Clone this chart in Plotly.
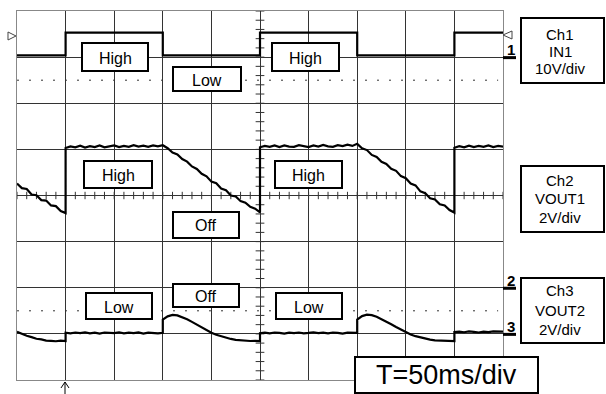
import numpy as np
import plotly.graph_objects as go

# ---------------- captured waveforms ----------------
SAMPLE_MS = 5  # sample spacing of the stored segments

# Ch1 IN1 (V): square drive signal, edge times in ms
ch1_t = [0, 50, 50, 150, 150, 250, 250, 350, 350, 450, 450, 500]
ch1_v = [0.4, 0.4, 5.3, 5.3, 0.4, 0.4, 5.3, 5.3, 0.4, 0.4, 5.3, 5.3]

# Ch2 VOUT1 (V): segments starting at these times, one sample per 5 ms
ch2_seg_start = [0, 50, 150, 250, 350, 450]
ch2_seg_v = [
    [4.52, 4.32, 4.28, 4.04, 4.01, 3.80, 3.78, 3.57, 3.54, 3.33, 3.24],
    [6.06, 6.13, 6.09, 6.16, 6.08, 6.14, 6.10, 6.17, 6.09, 6.13, 6.17,
     6.10, 6.15, 6.11, 6.18, 6.12, 6.16, 6.11, 6.17, 6.13, 6.18],
    [6.18, 6.05, 5.86, 5.78, 5.58, 5.47, 5.26, 5.15, 4.94, 4.83, 4.60,
     4.53, 4.30, 4.23, 4.00, 3.96, 3.76, 3.69, 3.51, 3.43, 3.27],
    [6.09, 6.15, 6.11, 6.17, 6.10, 6.17, 6.12, 6.11, 6.18, 6.13, 6.10,
     6.17, 6.12, 6.19, 6.13, 6.11, 6.18, 6.14, 6.20, 6.15, 6.22],
    [6.24, 6.05, 5.97, 5.76, 5.67, 5.46, 5.37, 5.16, 5.07, 4.84, 4.75,
     4.52, 4.44, 4.18, 4.10, 3.88, 3.83, 3.62, 3.57, 3.37, 3.26],
    [6.07, 6.14, 6.09, 6.16, 6.10, 6.15, 6.11, 6.17, 6.10, 6.15, 6.12],
]

# Ch3 VOUT2 (V)
ch3_seg_start = [0, 50, 150, 250, 350, 450]
ch3_seg_v = [
    [0.09, 0.00, -0.08, -0.14, -0.21, -0.24, -0.29, -0.30, -0.32, -0.29, -0.31],
    [0.05, 0.02, 0.06, 0.03, 0.07, 0.02, 0.05, 0.01, 0.06, 0.04, 0.03,
     0.07, 0.02, 0.05, 0.03, 0.06, 0.01, 0.05, 0.04, 0.02, 0.05],
    [0.62, 0.76, 0.82, 0.80, 0.73, 0.63, 0.52, 0.40, 0.28, 0.16, 0.05,
     -0.04, -0.11, -0.17, -0.22, -0.26, -0.28, -0.30, -0.31, -0.30, -0.31],
    [0.03, 0.05, 0.02, 0.06, 0.04, 0.01, 0.05, 0.03, 0.06, 0.02, 0.04,
     0.07, 0.03, 0.05, 0.02, 0.06, 0.04, 0.01, 0.05, 0.03, 0.04],
    [0.62, 0.77, 0.83, 0.81, 0.74, 0.64, 0.53, 0.42, 0.30, 0.18, 0.07,
     -0.03, -0.10, -0.16, -0.21, -0.25, -0.28, -0.29, -0.31, -0.30, -0.31],
    [0.08, 0.10, 0.07, 0.11, 0.09, 0.06, 0.10, 0.08, 0.11, 0.09, 0.10],
]

# channel vertical settings: volts per division, ground position in divisions
ch_scale = {"Ch1": 10.0, "Ch2": 2.0, "Ch3": 2.0}
ch_ground = {"Ch1": 3.0, "Ch2": -2.0, "Ch3": -3.0}

# state labels drawn on the screen
state_labels = ["High", "Low", "High", "High", "High", "Off", "Off", "Low", "Low"]
channel_names = ["Ch1", "Ch2", "Ch3"]
channel_signals = ["IN1", "VOUT1", "VOUT2"]
channel_units = ["10V/div", "2V/div", "2V/div"]
timebase_label = "T=50ms/div"

# ---------------- helpers ----------------
W, H = 606, 394
L, R, T, B = 17, 503, 11, 380  # plot area in pixels
FONT = "Liberation Sans, Arial, sans-serif"


def px(x):
    return (x - L) / (R - L)


def py(y):
    return (B - y) / (B - T)


def build(starts, segs):
    t, v = [], []
    for s, vals in zip(starts, segs):
        for i, val in enumerate(vals):
            t.append(s + SAMPLE_MS * i)
            v.append(val)
    return t, v


def to_div(ch, volts):
    return [ch_ground[ch] + vv / ch_scale[ch] for vv in volts]


ch2_t, ch2_v = build(ch2_seg_start, ch2_seg_v)
ch3_t, ch3_v = build(ch3_seg_start, ch3_seg_v)

fig = go.Figure()
for name, t, v in [("Ch1", ch1_t, ch1_v), ("Ch2", ch2_t, ch2_v), ("Ch3", ch3_t, ch3_v)]:
    fig.add_trace(go.Scatter(x=t, y=to_div(name, v), mode="lines", name=name,
                             line=dict(color="black", width=2.2), hoverinfo="skip"))

shapes = []
# dotted reference lines
for yy in (2.5, -2.5):
    shapes.append(dict(type="line", xref="x", yref="y", x0=0, x1=495, y0=yy, y1=yy,
                       line=dict(color="#333", width=1, dash="2px,10px"), layer="below"))
# centre graticule ticks
for xx in np.arange(0, 501, 10):
    shapes.append(dict(type="line", xref="x", yref="y", x0=xx, x1=xx, y0=-0.08, y1=0.08,
                       line=dict(color="#333", width=1), layer="below"))
for yy in np.arange(-4, 4.01, 0.2):
    shapes.append(dict(type="line", xref="x", yref="y", x0=245.5, x1=254.5, y0=yy, y1=yy,
                       line=dict(color="#333", width=1), layer="below"))


def box(x0, y0, x1, y1, width=2):
    shapes.append(dict(type="rect", xref="paper", yref="paper",
                       x0=px(x0), x1=px(x1), y0=py(y1), y1=py(y0),
                       line=dict(color="black", width=width), fillcolor="white", layer="above"))


annotations = []


def text(x, y, s, size=16, bold=False):
    annotations.append(dict(xref="paper", yref="paper", x=px(x), y=py(y), text=f"<b>{s}</b>" if bold else s,
                            showarrow=False, xanchor="center", yanchor="middle",
                            font=dict(family=FONT, size=size, color="black")))


# state label boxes (x0, y0, x1, y1)
label_boxes = [(82, 43, 148, 71), (173, 67, 241, 91), (272, 43, 339, 71),
               (84, 161, 152, 188), (275, 161, 342, 188), (173, 212, 239, 238),
               (173, 284, 239, 307), (86, 293, 152, 319), (276, 293, 342, 319)]
for (x0, y0, x1, y1), lab in zip(label_boxes, state_labels):
    box(x0, y0, x1, y1)
    text((x0 + x1) / 2, (y0 + y1) / 2 + 1, lab, size=16)

# channel info boxes
info_boxes = [(521, 18, 604, 83), (521, 166, 604, 232), (521, 278, 604, 343)]
info_lines = [(34, 51, 68.5), (180.5, 198, 217.5), (290.5, 310, 329.5)]
for (x0, y0, x1, y1), ys, a, b_, c in zip(info_boxes, info_lines, channel_names,
                                           channel_signals, channel_units):
    box(x0, y0, x1, y1)
    for yy, s in zip(ys, (a, b_, c)):
        text(560, yy, s, size=15)

# timebase box
box(355, 357, 538, 393)
text(446, 375, timebase_label, size=27)

# ground markers on the right edge
for label, ch in zip(("1", "2", "3"), channel_names):
    gy = 196 - ch_ground[ch] * (B - T) / 8
    shapes.append(dict(type="line", xref="paper", yref="paper", x0=px(503), x1=px(516),
                       y0=py(gy), y1=py(gy), line=dict(color="black", width=3)))
    text(511, gy - 8, label, size=15, bold=True)

# trigger level and trigger position markers
def path(points, close=True):
    d = "M " + " L ".join(f"{px(a):.5f},{py(b):.5f}" for a, b in points)
    return d + (" Z" if close else "")


shapes.append(dict(type="path", xref="paper", yref="paper", path=path([(8, 32), (16, 36), (8, 40)]),
                   line=dict(color="#444", width=1), fillcolor="white"))
shapes.append(dict(type="path", xref="paper", yref="paper", path=path([(512, 31), (503, 35), (512, 39)]),
                   line=dict(color="#444", width=1), fillcolor="white"))
shapes.append(dict(type="line", xref="paper", yref="paper", x0=px(65), x1=px(65), y0=py(382), y1=py(394),
                   line=dict(color="black", width=1)))
shapes.append(dict(type="path", xref="paper", yref="paper", path=path([(61, 388), (65, 382), (69, 388)], close=False),
                   line=dict(color="black", width=1)))

axis_common = dict(showticklabels=False, ticks="", zeroline=False, showline=True, mirror=True,
                   linecolor="#888", linewidth=1, gridcolor="#333", gridwidth=1, fixedrange=True)
fig.update_layout(
    width=W, height=H,
    margin=dict(l=L, r=W - R, t=T, b=H - B, pad=0),
    paper_bgcolor="white", plot_bgcolor="white",
    showlegend=False,
    xaxis=dict(range=[0, 500], dtick=50, tick0=0, **axis_common),
    yaxis=dict(range=[-4, 4], dtick=1, tick0=0, **axis_common),
    shapes=shapes, annotations=annotations,
)

fig.write_html("out.html")
